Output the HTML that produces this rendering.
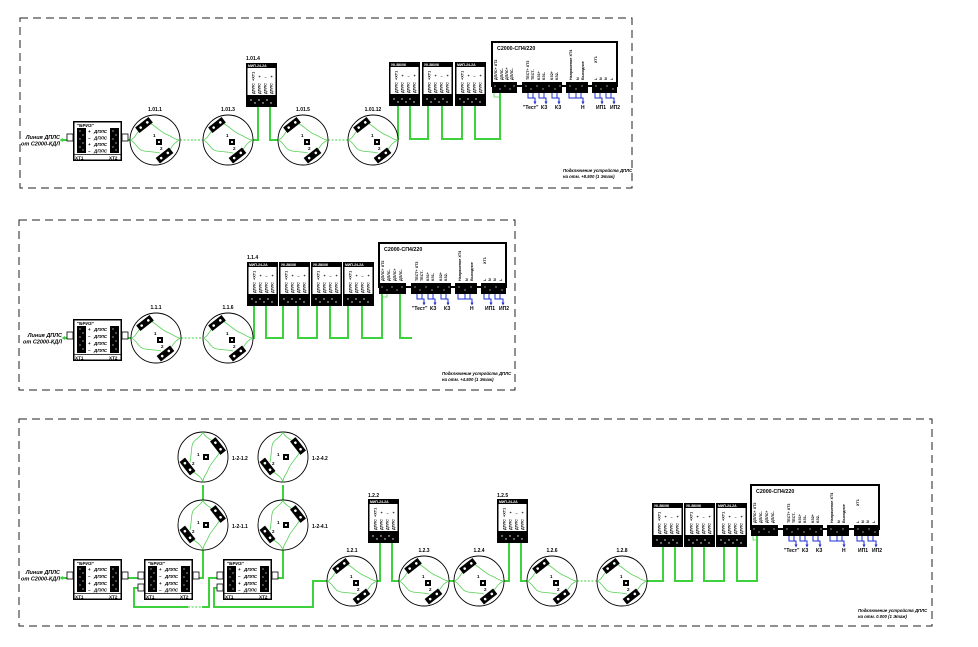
<!DOCTYPE html>
<html><head><meta charset="utf-8"><style>
html,body{margin:0;padding:0;background:#fff;}
svg{display:block;}
text{font-family:"Liberation Sans",sans-serif;font-weight:bold;}
.dash{fill:none;stroke:#222;stroke-width:1;stroke-dasharray:8 5;}
.g{fill:none;stroke:#3dd13d;stroke-width:2;}
.gt{fill:none;stroke:#55d055;stroke-width:.8;}
.gb{fill:none;stroke:#3dd13d;stroke-width:1;stroke-dasharray:2 1.6;}
.b{fill:none;stroke:#1f2fd0;stroke-width:1;}
.ti{font-size:5.5px;font-style:italic;}
.lb{font-size:5px;}
.n{font-size:4.5px;}
.bt{font-size:4.6px;}
.bi{font-size:4.6px;font-style:italic;}
.mh{font-size:3.5px;fill:#fff;}
.mv{font-size:3.8px;}
.st{font-size:5.3px;}
.sv{font-size:3.7px;}
.bl{font-size:5px;fill:#1f2fd0;}
.bk{font-size:5px;}
.cap{font-size:4.3px;font-style:italic;}
</style></head><body>
<svg width="978" height="647" viewBox="0 0 978 647" xmlns="http://www.w3.org/2000/svg">
<rect width="978" height="647" fill="#fff"/>

<!-- ================= TOP PANEL ================= -->
<rect x="20" y="18" width="612" height="170" class="dash"/>
<text class="ti" x="60" y="139" text-anchor="end">Линия ДПЛС</text>
<text class="ti" x="60" y="145.5" text-anchor="end">от С2000-КДЛ</text>
<path class="g" d="M62 140H67M128 140H130M253 140H258V107M270 107V140H278M398 140V106M410 106V139H428V106M442 106V139H462V106M475 106V139H500V93"/>
<path d="M59.5 140l3.5-2v4z" fill="#3dd13d"/>
<path class="gb" d="M180 140H203M328 140H348"/>
<path class="gt" d="M494 93V97H500"/>

<!-- BRIZ top -->
<g transform="translate(73,121)">
<rect x="-6" y="13" width="6" height="7" fill="#fff" stroke="#000" stroke-width=".8"/>
<rect x="49" y="13" width="6" height="7" fill="#fff" stroke="#000" stroke-width=".8"/>
<rect x=".75" y=".75" width="47.5" height="38.5" fill="#fff" stroke="#000" stroke-width="1.5"/>
<text class="bt" x="4" y="6">"БРИЗ"</text>
<rect x="4" y="7" width="9" height="25"/>
<g fill="#fff"><circle cx="7" cy="10" r=".6"/><circle cx="10" cy="14" r=".6"/><circle cx="7" cy="18" r=".6"/><circle cx="10" cy="22" r=".6"/><circle cx="7" cy="26" r=".6"/><circle cx="10" cy="29" r=".6"/></g>
<text class="bt" x="15" y="12">+</text><text class="bt" x="15" y="18.5">–</text><text class="bt" x="15" y="25">+</text><text class="bt" x="15" y="31.5">–</text>
<text class="bi" x="21" y="12">ДПЛС</text><text class="bi" x="21" y="18.5">ДПЛС</text><text class="bi" x="21" y="25">ДПЛС</text><text class="bi" x="21" y="31.5">ДПЛС</text>
<rect x="37" y="7" width="9" height="25"/>
<g fill="#fff"><circle cx="40" cy="10" r=".6"/><circle cx="43" cy="14" r=".6"/><circle cx="40" cy="18" r=".6"/><circle cx="43" cy="22" r=".6"/><circle cx="40" cy="26" r=".6"/><circle cx="43" cy="29" r=".6"/></g>
<line x1="0" y1="33.5" x2="49" y2="33.5" stroke="#000" stroke-width=".8"/>
<text class="bt" x="2" y="38.5">XT1</text><text class="bt" x="36" y="38.5">XT2</text>
</g>

<!-- detectors top -->
<g transform="translate(155,140)"><circle r="25" fill="#fff" stroke="#000" stroke-width=".9"/><path class="gt" d="M-25 0C-20-1-19-7-15-10M-25 0C-19 2-18 10-11 11C-4 12 1 12 5 13M-5-17C3-12 7-7 13-5C18-3 20 0 25 0M14 11C17 7 19 2 25 0"/><g transform="translate(-11,-15) rotate(-38)"><rect x="-8.5" y="-3.5" width="17" height="7"/><circle cx="-4.2" r="1.3" fill="#fff"/><circle cx="4.2" r="1.3" fill="#fff"/></g><g transform="translate(9.5,15.5) rotate(-38)"><rect x="-8.5" y="-3.5" width="17" height="7"/><circle cx="-4.2" r="1.3" fill="#fff"/><circle cx="4.2" r="1.3" fill="#fff"/></g><rect x="1" y="-1" width="6" height="6"/><circle cx="4" cy="2" r="1.1" fill="#fff"/><text class="n" x="-2" y="-3">1</text><text class="n" x="5" y="10">2</text><text class="lb" x="0" y="-29" text-anchor="middle">1.01.1</text></g>
<g transform="translate(228,140)"><circle r="25" fill="#fff" stroke="#000" stroke-width=".9"/><path class="gt" d="M-25 0C-20-1-19-7-15-10M-25 0C-19 2-18 10-11 11C-4 12 1 12 5 13M-5-17C3-12 7-7 13-5C18-3 20 0 25 0M14 11C17 7 19 2 25 0"/><g transform="translate(-11,-15) rotate(-38)"><rect x="-8.5" y="-3.5" width="17" height="7"/><circle cx="-4.2" r="1.3" fill="#fff"/><circle cx="4.2" r="1.3" fill="#fff"/></g><g transform="translate(9.5,15.5) rotate(-38)"><rect x="-8.5" y="-3.5" width="17" height="7"/><circle cx="-4.2" r="1.3" fill="#fff"/><circle cx="4.2" r="1.3" fill="#fff"/></g><rect x="1" y="-1" width="6" height="6"/><circle cx="4" cy="2" r="1.1" fill="#fff"/><text class="n" x="-2" y="-3">1</text><text class="n" x="5" y="10">2</text><text class="lb" x="0" y="-29" text-anchor="middle">1.01.3</text></g>
<g transform="translate(303,140)"><circle r="25" fill="#fff" stroke="#000" stroke-width=".9"/><path class="gt" d="M-25 0C-20-1-19-7-15-10M-25 0C-19 2-18 10-11 11C-4 12 1 12 5 13M-5-17C3-12 7-7 13-5C18-3 20 0 25 0M14 11C17 7 19 2 25 0"/><g transform="translate(-11,-15) rotate(-38)"><rect x="-8.5" y="-3.5" width="17" height="7"/><circle cx="-4.2" r="1.3" fill="#fff"/><circle cx="4.2" r="1.3" fill="#fff"/></g><g transform="translate(9.5,15.5) rotate(-38)"><rect x="-8.5" y="-3.5" width="17" height="7"/><circle cx="-4.2" r="1.3" fill="#fff"/><circle cx="4.2" r="1.3" fill="#fff"/></g><rect x="1" y="-1" width="6" height="6"/><circle cx="4" cy="2" r="1.1" fill="#fff"/><text class="n" x="-2" y="-3">1</text><text class="n" x="5" y="10">2</text><text class="lb" x="0" y="-29" text-anchor="middle">1.01.5</text></g>
<g transform="translate(373,140)"><circle r="25" fill="#fff" stroke="#000" stroke-width=".9"/><path class="gt" d="M-25 0C-20-1-19-7-15-10M-25 0C-19 2-18 10-11 11C-4 12 1 12 5 13M-5-17C3-12 7-7 13-5C18-3 20 0 25 0M14 11C17 7 19 2 25 0"/><g transform="translate(-11,-15) rotate(-38)"><rect x="-8.5" y="-3.5" width="17" height="7"/><circle cx="-4.2" r="1.3" fill="#fff"/><circle cx="4.2" r="1.3" fill="#fff"/></g><g transform="translate(9.5,15.5) rotate(-38)"><rect x="-8.5" y="-3.5" width="17" height="7"/><circle cx="-4.2" r="1.3" fill="#fff"/><circle cx="4.2" r="1.3" fill="#fff"/></g><rect x="1" y="-1" width="6" height="6"/><circle cx="4" cy="2" r="1.1" fill="#fff"/><text class="n" x="-2" y="-3">1</text><text class="n" x="5" y="10">2</text><text class="lb" x="0" y="-29" text-anchor="middle">1.01.12</text></g>

<!-- modules top -->
<text class="lb" x="246" y="60">1.01.4</text>
<g transform="translate(246,63)"><rect x=".75" y=".75" width="29.5" height="42.5" fill="#fff" stroke="#000" stroke-width="1.5"/><rect width="31" height="5"/><text class="mh" x="2" y="4">МИП-24-2А</text><text class="mv" transform="translate(8.5,18) rotate(-90)">+XT1</text><text class="mv" x="12.5" y="15">+</text><text class="mv" x="18.5" y="15">–</text><text class="mv" x="24.5" y="15">+</text><text class="mv" transform="translate(8.5,31) rotate(-90)">ДПЛС</text><text class="mv" transform="translate(14.5,31) rotate(-90)">ДПЛС</text><text class="mv" transform="translate(20.5,31) rotate(-90)">ДПЛС</text><text class="mv" transform="translate(26.5,31) rotate(-90)">ДПЛС</text><rect x="1" y="32" width="29" height="12"/><g fill="#fff"><circle cx="5" cy="37" r=".7"/><circle cx="9" cy="40" r=".7"/><circle cx="13" cy="37" r=".7"/><circle cx="17" cy="40" r=".7"/><circle cx="21" cy="37" r=".7"/><circle cx="25" cy="40" r=".7"/></g></g>
<g transform="translate(389,62)"><rect x=".75" y=".75" width="29.5" height="42.5" fill="#fff" stroke="#000" stroke-width="1.5"/><rect width="31" height="5"/><text class="mh" x="2" y="4">УК-ВК/06</text><text class="mv" transform="translate(8.5,18) rotate(-90)">+XT1</text><text class="mv" x="12.5" y="15">+</text><text class="mv" x="18.5" y="15">–</text><text class="mv" x="24.5" y="15">+</text><text class="mv" transform="translate(8.5,31) rotate(-90)">ДПЛС</text><text class="mv" transform="translate(14.5,31) rotate(-90)">ДПЛС</text><text class="mv" transform="translate(20.5,31) rotate(-90)">ДПЛС</text><text class="mv" transform="translate(26.5,31) rotate(-90)">ДПЛС</text><rect x="1" y="32" width="29" height="12"/><g fill="#fff"><circle cx="5" cy="37" r=".7"/><circle cx="9" cy="40" r=".7"/><circle cx="13" cy="37" r=".7"/><circle cx="17" cy="40" r=".7"/><circle cx="21" cy="37" r=".7"/><circle cx="25" cy="40" r=".7"/></g></g>
<g transform="translate(422,62)"><rect x=".75" y=".75" width="29.5" height="42.5" fill="#fff" stroke="#000" stroke-width="1.5"/><rect width="31" height="5"/><text class="mh" x="2" y="4">УК-ВК/06</text><text class="mv" transform="translate(8.5,18) rotate(-90)">+XT1</text><text class="mv" x="12.5" y="15">+</text><text class="mv" x="18.5" y="15">–</text><text class="mv" x="24.5" y="15">+</text><text class="mv" transform="translate(8.5,31) rotate(-90)">ДПЛС</text><text class="mv" transform="translate(14.5,31) rotate(-90)">ДПЛС</text><text class="mv" transform="translate(20.5,31) rotate(-90)">ДПЛС</text><text class="mv" transform="translate(26.5,31) rotate(-90)">ДПЛС</text><rect x="1" y="32" width="29" height="12"/><g fill="#fff"><circle cx="5" cy="37" r=".7"/><circle cx="9" cy="40" r=".7"/><circle cx="13" cy="37" r=".7"/><circle cx="17" cy="40" r=".7"/><circle cx="21" cy="37" r=".7"/><circle cx="25" cy="40" r=".7"/></g></g>
<g transform="translate(455,62)"><rect x=".75" y=".75" width="29.5" height="42.5" fill="#fff" stroke="#000" stroke-width="1.5"/><rect width="31" height="5"/><text class="mh" x="2" y="4">МИП-24-2А</text><text class="mv" transform="translate(8.5,18) rotate(-90)">+XT1</text><text class="mv" x="12.5" y="15">+</text><text class="mv" x="18.5" y="15">–</text><text class="mv" x="24.5" y="15">+</text><text class="mv" transform="translate(8.5,31) rotate(-90)">ДПЛС</text><text class="mv" transform="translate(14.5,31) rotate(-90)">ДПЛС</text><text class="mv" transform="translate(20.5,31) rotate(-90)">ДПЛС</text><text class="mv" transform="translate(26.5,31) rotate(-90)">ДПЛС</text><rect x="1" y="32" width="29" height="12"/><g fill="#fff"><circle cx="5" cy="37" r=".7"/><circle cx="9" cy="40" r=".7"/><circle cx="13" cy="37" r=".7"/><circle cx="17" cy="40" r=".7"/><circle cx="21" cy="37" r=".7"/><circle cx="25" cy="40" r=".7"/></g></g>

<!-- SP4 top -->
<g transform="translate(491,41)">
<rect x="1" y="1" width="125" height="44" fill="#fff" stroke="#000" stroke-width="2"/>
<text class="st" x="6" y="9">С2000-СП4/220</text>
<rect x="1" y="41" width="25" height="11"/><rect x="31" y="41" width="40" height="11"/><rect x="75" y="41" width="22" height="11"/><rect x="101" y="41" width="25" height="11"/>
<g fill="#fff"><circle cx="4" cy="45" r=".6"/><circle cx="9" cy="48" r=".6"/><circle cx="14" cy="45" r=".6"/><circle cx="19" cy="48" r=".6"/><circle cx="23" cy="45" r=".6"/><circle cx="35" cy="45" r=".6"/><circle cx="40" cy="48" r=".6"/><circle cx="46" cy="45" r=".6"/><circle cx="52" cy="48" r=".6"/><circle cx="58" cy="45" r=".6"/><circle cx="64" cy="48" r=".6"/><circle cx="69" cy="45" r=".6"/><circle cx="79" cy="45" r=".6"/><circle cx="85" cy="48" r=".6"/><circle cx="91" cy="45" r=".6"/><circle cx="105" cy="45" r=".6"/><circle cx="110" cy="48" r=".6"/><circle cx="116" cy="45" r=".6"/><circle cx="122" cy="48" r=".6"/></g>
<text class="sv" transform="translate(6,39) rotate(-90)">ДПЛС+ XT2</text><text class="sv" transform="translate(12,39) rotate(-90)">ДПЛС-</text><text class="sv" transform="translate(17,39) rotate(-90)">ДПЛС+</text><text class="sv" transform="translate(22,39) rotate(-90)">ДПЛС-</text>
<text class="sv" transform="translate(38,39) rotate(-90)">ТЕСТ+ XT3</text><text class="sv" transform="translate(43,39) rotate(-90)">ТЕСТ-</text><text class="sv" transform="translate(49,39) rotate(-90)">КЗ1+</text><text class="sv" transform="translate(54,39) rotate(-90)">КЗ1-</text><text class="sv" transform="translate(62,39) rotate(-90)">КЗ2+</text><text class="sv" transform="translate(67,39) rotate(-90)">КЗ2-</text>
<text class="sv" transform="translate(81,39) rotate(-90)">Напряжение XT4</text><text class="sv" transform="translate(88,39) rotate(-90)">N</text><text class="sv" transform="translate(93,39) rotate(-90)">Выходное</text>
<text class="sv" transform="translate(106,22) rotate(-90)">XT1</text><text class="sv" transform="translate(106,39) rotate(-90)">L</text><text class="sv" transform="translate(111,39) rotate(-90)">N</text><text class="sv" transform="translate(116,39) rotate(-90)">N</text><text class="sv" transform="translate(122,39) rotate(-90)">L</text>
<path class="b" d="M37 52V57H44V61M42 52V57M48 52V57H55V61M53 52V57M61 52V57H68V61M66 52V57M78 52V57H92V61M85 52V57M90 52V57M104 52V57H111V61M109 52V57M115 52V57H123V61M120 52V57"/>
<g fill="#1f2fd0"><path d="M42.5 60.5h3l-1.5 3z"/><path d="M53.5 60.5h3l-1.5 3z"/><path d="M66.5 60.5h3l-1.5 3z"/><path d="M90.5 60.5h3l-1.5 3z"/><path d="M109.5 60.5h3l-1.5 3z"/><path d="M121.5 60.5h3l-1.5 3z"/></g>
<text class="bk" x="32" y="68">"Тест"</text><text class="bk" x="50" y="68">КЗ</text><text class="bk" x="64" y="68">КЗ</text><text class="bk" x="90" y="68">Н</text><text class="bk" x="105" y="68">ИП1</text><text class="bk" x="119" y="68">ИП2</text>
</g>
<text class="cap" x="563" y="172">Подключение устройств ДПЛС</text>
<text class="cap" x="563" y="178">на отм. +8.500 (1 Этаж)</text>

<!-- ================= MIDDLE PANEL ================= -->
<rect x="19" y="220" width="496" height="170" class="dash"/>
<text class="ti" x="62" y="337" text-anchor="end">Линия ДПЛС</text>
<text class="ti" x="62" y="343.5" text-anchor="end">от С2000-КДЛ</text>
<path class="g" d="M64 338H67M128 338H131M253 338H254V306M266 306V338H283V306M298 306V338H317V306M330 306V338H348V306M362 306V338H382V293M400 293V338H412"/>
<path d="M61.5 338l3.5-2v4z" fill="#3dd13d"/>
<path class="gb" d="M181 338H203"/>
<path class="gt" d="M382 293V297H387V293"/>

<g transform="translate(73,319)">
<rect x="-6" y="13" width="6" height="7" fill="#fff" stroke="#000" stroke-width=".8"/>
<rect x="49" y="13" width="6" height="7" fill="#fff" stroke="#000" stroke-width=".8"/>
<rect x=".75" y=".75" width="47.5" height="40.5" fill="#fff" stroke="#000" stroke-width="1.5"/>
<text class="bt" x="4" y="6">"БРИЗ"</text>
<rect x="4" y="7" width="9" height="27"/>
<g fill="#fff"><circle cx="7" cy="10" r=".6"/><circle cx="10" cy="14" r=".6"/><circle cx="7" cy="18" r=".6"/><circle cx="10" cy="22" r=".6"/><circle cx="7" cy="26" r=".6"/><circle cx="10" cy="30" r=".6"/></g>
<text class="bt" x="15" y="12">+</text><text class="bt" x="15" y="19">–</text><text class="bt" x="15" y="26">+</text><text class="bt" x="15" y="33">–</text>
<text class="bi" x="21" y="12">ДПЛС</text><text class="bi" x="21" y="19">ДПЛС</text><text class="bi" x="21" y="26">ДПЛС</text><text class="bi" x="21" y="33">ДПЛС</text>
<rect x="37" y="7" width="9" height="27"/>
<g fill="#fff"><circle cx="40" cy="10" r=".6"/><circle cx="43" cy="14" r=".6"/><circle cx="40" cy="18" r=".6"/><circle cx="43" cy="22" r=".6"/><circle cx="40" cy="26" r=".6"/><circle cx="43" cy="30" r=".6"/></g>
<line x1="0" y1="35.5" x2="49" y2="35.5" stroke="#000" stroke-width=".8"/>
<text class="bt" x="2" y="40.5">XT1</text><text class="bt" x="36" y="40.5">XT2</text>
</g>

<g transform="translate(156,338)"><circle r="25" fill="#fff" stroke="#000" stroke-width=".9"/><path class="gt" d="M-25 0C-20-1-19-7-15-10M-25 0C-19 2-18 10-11 11C-4 12 1 12 5 13M-5-17C3-12 7-7 13-5C18-3 20 0 25 0M14 11C17 7 19 2 25 0"/><g transform="translate(-11,-15) rotate(-38)"><rect x="-8.5" y="-3.5" width="17" height="7"/><circle cx="-4.2" r="1.3" fill="#fff"/><circle cx="4.2" r="1.3" fill="#fff"/></g><g transform="translate(9.5,15.5) rotate(-38)"><rect x="-8.5" y="-3.5" width="17" height="7"/><circle cx="-4.2" r="1.3" fill="#fff"/><circle cx="4.2" r="1.3" fill="#fff"/></g><rect x="1" y="-1" width="6" height="6"/><circle cx="4" cy="2" r="1.1" fill="#fff"/><text class="n" x="-2" y="-3">1</text><text class="n" x="5" y="10">2</text><text class="lb" x="0" y="-29" text-anchor="middle">1.1.1</text></g>
<g transform="translate(228,338)"><circle r="25" fill="#fff" stroke="#000" stroke-width=".9"/><path class="gt" d="M-25 0C-20-1-19-7-15-10M-25 0C-19 2-18 10-11 11C-4 12 1 12 5 13M-5-17C3-12 7-7 13-5C18-3 20 0 25 0M14 11C17 7 19 2 25 0"/><g transform="translate(-11,-15) rotate(-38)"><rect x="-8.5" y="-3.5" width="17" height="7"/><circle cx="-4.2" r="1.3" fill="#fff"/><circle cx="4.2" r="1.3" fill="#fff"/></g><g transform="translate(9.5,15.5) rotate(-38)"><rect x="-8.5" y="-3.5" width="17" height="7"/><circle cx="-4.2" r="1.3" fill="#fff"/><circle cx="4.2" r="1.3" fill="#fff"/></g><rect x="1" y="-1" width="6" height="6"/><circle cx="4" cy="2" r="1.1" fill="#fff"/><text class="n" x="-2" y="-3">1</text><text class="n" x="5" y="10">2</text><text class="lb" x="0" y="-29" text-anchor="middle">1.1.6</text></g>

<text class="lb" x="247" y="259">1.1.4</text>
<g transform="translate(247,262)"><rect x=".75" y=".75" width="29.5" height="42.5" fill="#fff" stroke="#000" stroke-width="1.5"/><rect width="31" height="5"/><text class="mh" x="2" y="4">МИП-24-2А</text><text class="mv" transform="translate(8.5,18) rotate(-90)">+XT1</text><text class="mv" x="12.5" y="15">+</text><text class="mv" x="18.5" y="15">–</text><text class="mv" x="24.5" y="15">+</text><text class="mv" transform="translate(8.5,31) rotate(-90)">ДПЛС</text><text class="mv" transform="translate(14.5,31) rotate(-90)">ДПЛС</text><text class="mv" transform="translate(20.5,31) rotate(-90)">ДПЛС</text><text class="mv" transform="translate(26.5,31) rotate(-90)">ДПЛС</text><rect x="1" y="32" width="29" height="12"/><g fill="#fff"><circle cx="5" cy="37" r=".7"/><circle cx="9" cy="40" r=".7"/><circle cx="13" cy="37" r=".7"/><circle cx="17" cy="40" r=".7"/><circle cx="21" cy="37" r=".7"/><circle cx="25" cy="40" r=".7"/></g></g>
<g transform="translate(279,262)"><rect x=".75" y=".75" width="29.5" height="42.5" fill="#fff" stroke="#000" stroke-width="1.5"/><rect width="31" height="5"/><text class="mh" x="2" y="4">УК-ВК/06</text><text class="mv" transform="translate(8.5,18) rotate(-90)">+XT1</text><text class="mv" x="12.5" y="15">+</text><text class="mv" x="18.5" y="15">–</text><text class="mv" x="24.5" y="15">+</text><text class="mv" transform="translate(8.5,31) rotate(-90)">ДПЛС</text><text class="mv" transform="translate(14.5,31) rotate(-90)">ДПЛС</text><text class="mv" transform="translate(20.5,31) rotate(-90)">ДПЛС</text><text class="mv" transform="translate(26.5,31) rotate(-90)">ДПЛС</text><rect x="1" y="32" width="29" height="12"/><g fill="#fff"><circle cx="5" cy="37" r=".7"/><circle cx="9" cy="40" r=".7"/><circle cx="13" cy="37" r=".7"/><circle cx="17" cy="40" r=".7"/><circle cx="21" cy="37" r=".7"/><circle cx="25" cy="40" r=".7"/></g></g>
<g transform="translate(311,262)"><rect x=".75" y=".75" width="29.5" height="42.5" fill="#fff" stroke="#000" stroke-width="1.5"/><rect width="31" height="5"/><text class="mh" x="2" y="4">УК-ВК/06</text><text class="mv" transform="translate(8.5,18) rotate(-90)">+XT1</text><text class="mv" x="12.5" y="15">+</text><text class="mv" x="18.5" y="15">–</text><text class="mv" x="24.5" y="15">+</text><text class="mv" transform="translate(8.5,31) rotate(-90)">ДПЛС</text><text class="mv" transform="translate(14.5,31) rotate(-90)">ДПЛС</text><text class="mv" transform="translate(20.5,31) rotate(-90)">ДПЛС</text><text class="mv" transform="translate(26.5,31) rotate(-90)">ДПЛС</text><rect x="1" y="32" width="29" height="12"/><g fill="#fff"><circle cx="5" cy="37" r=".7"/><circle cx="9" cy="40" r=".7"/><circle cx="13" cy="37" r=".7"/><circle cx="17" cy="40" r=".7"/><circle cx="21" cy="37" r=".7"/><circle cx="25" cy="40" r=".7"/></g></g>
<g transform="translate(343,262)"><rect x=".75" y=".75" width="29.5" height="42.5" fill="#fff" stroke="#000" stroke-width="1.5"/><rect width="31" height="5"/><text class="mh" x="2" y="4">МИП-24-2А</text><text class="mv" transform="translate(8.5,18) rotate(-90)">+XT1</text><text class="mv" x="12.5" y="15">+</text><text class="mv" x="18.5" y="15">–</text><text class="mv" x="24.5" y="15">+</text><text class="mv" transform="translate(8.5,31) rotate(-90)">ДПЛС</text><text class="mv" transform="translate(14.5,31) rotate(-90)">ДПЛС</text><text class="mv" transform="translate(20.5,31) rotate(-90)">ДПЛС</text><text class="mv" transform="translate(26.5,31) rotate(-90)">ДПЛС</text><rect x="1" y="32" width="29" height="12"/><g fill="#fff"><circle cx="5" cy="37" r=".7"/><circle cx="9" cy="40" r=".7"/><circle cx="13" cy="37" r=".7"/><circle cx="17" cy="40" r=".7"/><circle cx="21" cy="37" r=".7"/><circle cx="25" cy="40" r=".7"/></g></g>

<g transform="translate(378,242)">
<rect x="1" y="1" width="127" height="44" fill="#fff" stroke="#000" stroke-width="2"/>
<text class="st" x="6" y="9">С2000-СП4/220</text>
<rect x="1" y="41" width="27" height="11"/><rect x="33" y="41" width="40" height="11"/><rect x="77" y="41" width="22" height="11"/><rect x="103" y="41" width="25" height="11"/>
<g fill="#fff"><circle cx="4" cy="45" r=".6"/><circle cx="9" cy="48" r=".6"/><circle cx="14" cy="45" r=".6"/><circle cx="19" cy="48" r=".6"/><circle cx="24" cy="45" r=".6"/><circle cx="37" cy="45" r=".6"/><circle cx="42" cy="48" r=".6"/><circle cx="48" cy="45" r=".6"/><circle cx="54" cy="48" r=".6"/><circle cx="60" cy="45" r=".6"/><circle cx="66" cy="48" r=".6"/><circle cx="71" cy="45" r=".6"/><circle cx="81" cy="45" r=".6"/><circle cx="87" cy="48" r=".6"/><circle cx="93" cy="45" r=".6"/><circle cx="107" cy="45" r=".6"/><circle cx="112" cy="48" r=".6"/><circle cx="118" cy="45" r=".6"/><circle cx="124" cy="48" r=".6"/></g>
<text class="sv" transform="translate(6,39) rotate(-90)">ДПЛС+ XT2</text><text class="sv" transform="translate(12,39) rotate(-90)">ДПЛС-</text><text class="sv" transform="translate(18,39) rotate(-90)">ДПЛС+</text><text class="sv" transform="translate(24,39) rotate(-90)">ДПЛС-</text>
<text class="sv" transform="translate(40,39) rotate(-90)">ТЕСТ+ XT3</text><text class="sv" transform="translate(45,39) rotate(-90)">ТЕСТ-</text><text class="sv" transform="translate(51,39) rotate(-90)">КЗ1+</text><text class="sv" transform="translate(56,39) rotate(-90)">КЗ1-</text><text class="sv" transform="translate(64,39) rotate(-90)">КЗ2+</text><text class="sv" transform="translate(69,39) rotate(-90)">КЗ2-</text>
<text class="sv" transform="translate(83,39) rotate(-90)">Напряжение XT4</text><text class="sv" transform="translate(90,39) rotate(-90)">N</text><text class="sv" transform="translate(95,39) rotate(-90)">Выходное</text>
<text class="sv" transform="translate(108,22) rotate(-90)">XT1</text><text class="sv" transform="translate(108,39) rotate(-90)">L</text><text class="sv" transform="translate(113,39) rotate(-90)">N</text><text class="sv" transform="translate(118,39) rotate(-90)">N</text><text class="sv" transform="translate(124,39) rotate(-90)">L</text>
<path class="b" d="M39 52V57H46V61M44 52V57M50 52V57H57V61M55 52V57M63 52V57H70V61M68 52V57M80 52V57H94V61M87 52V57M92 52V57M106 52V57H113V61M111 52V57M117 52V57H125V61M122 52V57"/>
<g fill="#1f2fd0"><path d="M44.5 60.5h3l-1.5 3z"/><path d="M55.5 60.5h3l-1.5 3z"/><path d="M68.5 60.5h3l-1.5 3z"/><path d="M92.5 60.5h3l-1.5 3z"/><path d="M111.5 60.5h3l-1.5 3z"/><path d="M123.5 60.5h3l-1.5 3z"/></g>
<text class="bk" x="34" y="68">"Тест"</text><text class="bk" x="52" y="68">КЗ</text><text class="bk" x="66" y="68">КЗ</text><text class="bk" x="92" y="68">Н</text><text class="bk" x="107" y="68">ИП1</text><text class="bk" x="121" y="68">ИП2</text>
</g>
<text class="cap" x="442" y="375">Подключение устройств ДПЛС</text>
<text class="cap" x="442" y="381">на отм. +4.500 (1 Этаж)</text>

<!-- ================= BOTTOM PANEL ================= -->
<rect x="19" y="419" width="913" height="207" class="dash"/>
<text class="ti" x="60" y="574" text-anchor="end">Линия ДПЛС</text>
<text class="ti" x="60" y="580.5" text-anchor="end">от С2000-КДЛ</text>
<path class="g" d="M62 578H67M128 578H138M138 588H134V607H188M202 607H209V578H217M217 588H214V607H313V581H327M199 578H203V550M203 500V485M278 578H283V550M283 500V485M377 581H380V543M392 543V581H399M449 581H454M504 581H509V543M521 543V581H527M647 581H663V547M675 547V581H692V547M704 547V581H724V547M737 547V581H757V536"/>
<path d="M59.5 578l3.5-2v4z" fill="#3dd13d"/>
<path class="gb" d="M188 607H202M577 581H597"/>
<path class="gt" d="M753 536V540H757"/>

<!-- BRIZ bottom -->
<g transform="translate(73,559)">
<rect x="-6" y="13" width="6" height="7" fill="#fff" stroke="#000" stroke-width=".8"/>
<rect x="49" y="13" width="6" height="7" fill="#fff" stroke="#000" stroke-width=".8"/>
<rect x=".75" y=".75" width="47.5" height="39.5" fill="#fff" stroke="#000" stroke-width="1.5"/>
<text class="bt" x="4" y="6">"БРИЗ"</text>
<rect x="4" y="7" width="9" height="26"/>
<g fill="#fff"><circle cx="7" cy="10" r=".6"/><circle cx="10" cy="14" r=".6"/><circle cx="7" cy="18" r=".6"/><circle cx="10" cy="22" r=".6"/><circle cx="7" cy="26" r=".6"/><circle cx="10" cy="30" r=".6"/></g>
<text class="bt" x="15" y="12">+</text><text class="bt" x="15" y="19">–</text><text class="bt" x="15" y="26">+</text><text class="bt" x="15" y="32.5">–</text>
<text class="bi" x="21" y="12">ДПЛС</text><text class="bi" x="21" y="19">ДПЛС</text><text class="bi" x="21" y="26">ДПЛС</text><text class="bi" x="21" y="32.5">ДПЛС</text>
<rect x="37" y="7" width="9" height="26"/>
<g fill="#fff"><circle cx="40" cy="10" r=".6"/><circle cx="43" cy="14" r=".6"/><circle cx="40" cy="18" r=".6"/><circle cx="43" cy="22" r=".6"/><circle cx="40" cy="26" r=".6"/><circle cx="43" cy="30" r=".6"/></g>
<line x1="0" y1="34.5" x2="49" y2="34.5" stroke="#000" stroke-width=".8"/>
<text class="bt" x="2" y="39.5">XT1</text><text class="bt" x="36" y="39.5">XT2</text>
</g>
<g transform="translate(144,559)">
<rect x="-6" y="13" width="6" height="7" fill="#fff" stroke="#000" stroke-width=".8"/>
<rect x="-6" y="25" width="6" height="7" fill="#fff" stroke="#000" stroke-width=".8"/>
<rect x="49" y="13" width="6" height="7" fill="#fff" stroke="#000" stroke-width=".8"/>
<rect x=".75" y=".75" width="47.5" height="39.5" fill="#fff" stroke="#000" stroke-width="1.5"/>
<text class="bt" x="4" y="6">"БРИЗ"</text>
<rect x="4" y="7" width="9" height="26"/>
<g fill="#fff"><circle cx="7" cy="10" r=".6"/><circle cx="10" cy="14" r=".6"/><circle cx="7" cy="18" r=".6"/><circle cx="10" cy="22" r=".6"/><circle cx="7" cy="26" r=".6"/><circle cx="10" cy="30" r=".6"/></g>
<text class="bt" x="15" y="12">+</text><text class="bt" x="15" y="19">–</text><text class="bt" x="15" y="26">+</text><text class="bt" x="15" y="32.5">–</text>
<text class="bi" x="21" y="12">ДПЛС</text><text class="bi" x="21" y="19">ДПЛС</text><text class="bi" x="21" y="26">ДПЛС</text><text class="bi" x="21" y="32.5">ДПЛС</text>
<rect x="37" y="7" width="9" height="26"/>
<g fill="#fff"><circle cx="40" cy="10" r=".6"/><circle cx="43" cy="14" r=".6"/><circle cx="40" cy="18" r=".6"/><circle cx="43" cy="22" r=".6"/><circle cx="40" cy="26" r=".6"/><circle cx="43" cy="30" r=".6"/></g>
<line x1="0" y1="34.5" x2="49" y2="34.5" stroke="#000" stroke-width=".8"/>
<text class="bt" x="2" y="39.5">XT1</text><text class="bt" x="36" y="39.5">XT2</text>
</g>
<g transform="translate(223,559)">
<rect x="-6" y="13" width="6" height="7" fill="#fff" stroke="#000" stroke-width=".8"/>
<rect x="-6" y="25" width="6" height="7" fill="#fff" stroke="#000" stroke-width=".8"/>
<rect x="49" y="13" width="6" height="7" fill="#fff" stroke="#000" stroke-width=".8"/>
<rect x=".75" y=".75" width="47.5" height="39.5" fill="#fff" stroke="#000" stroke-width="1.5"/>
<text class="bt" x="4" y="6">"БРИЗ"</text>
<rect x="4" y="7" width="9" height="26"/>
<g fill="#fff"><circle cx="7" cy="10" r=".6"/><circle cx="10" cy="14" r=".6"/><circle cx="7" cy="18" r=".6"/><circle cx="10" cy="22" r=".6"/><circle cx="7" cy="26" r=".6"/><circle cx="10" cy="30" r=".6"/></g>
<text class="bt" x="15" y="12">+</text><text class="bt" x="15" y="19">–</text><text class="bt" x="15" y="26">+</text><text class="bt" x="15" y="32.5">–</text>
<text class="bi" x="21" y="12">ДПЛС</text><text class="bi" x="21" y="19">ДПЛС</text><text class="bi" x="21" y="26">ДПЛС</text><text class="bi" x="21" y="32.5">ДПЛС</text>
<rect x="37" y="7" width="9" height="26"/>
<g fill="#fff"><circle cx="40" cy="10" r=".6"/><circle cx="43" cy="14" r=".6"/><circle cx="40" cy="18" r=".6"/><circle cx="43" cy="22" r=".6"/><circle cx="40" cy="26" r=".6"/><circle cx="43" cy="30" r=".6"/></g>
<line x1="0" y1="34.5" x2="49" y2="34.5" stroke="#000" stroke-width=".8"/>
<text class="bt" x="2" y="39.5">XT1</text><text class="bt" x="36" y="39.5">XT2</text>
</g>

<!-- column detectors (rotated) -->
<g transform="translate(203,457)"><g transform="rotate(90)"><circle r="25" fill="#fff" stroke="#000" stroke-width=".9"/><path class="gt" d="M-25 0C-20-1-19-7-15-10M-25 0C-19 2-18 10-11 11C-4 12 1 12 5 13M-5-17C3-12 7-7 13-5C18-3 20 0 25 0M14 11C17 7 19 2 25 0"/><g transform="translate(-11,-15) rotate(-38)"><rect x="-8.5" y="-3.5" width="17" height="7"/><circle cx="-4.2" r="1.3" fill="#fff"/><circle cx="4.2" r="1.3" fill="#fff"/></g><g transform="translate(9.5,15.5) rotate(-38)"><rect x="-8.5" y="-3.5" width="17" height="7"/><circle cx="-4.2" r="1.3" fill="#fff"/><circle cx="4.2" r="1.3" fill="#fff"/></g><rect x="-3" y="-6" width="6" height="6"/><circle cx="0" cy="-3" r="1.1" fill="#fff"/></g><text class="n" x="-6" y="-1">1</text><text class="n" x="-11" y="8">2</text><text class="lb" x="29" y="3">1-2-1.2</text></g>
<g transform="translate(203,525)"><g transform="rotate(90)"><circle r="25" fill="#fff" stroke="#000" stroke-width=".9"/><path class="gt" d="M-25 0C-20-1-19-7-15-10M-25 0C-19 2-18 10-11 11C-4 12 1 12 5 13M-5-17C3-12 7-7 13-5C18-3 20 0 25 0M14 11C17 7 19 2 25 0"/><g transform="translate(-11,-15) rotate(-38)"><rect x="-8.5" y="-3.5" width="17" height="7"/><circle cx="-4.2" r="1.3" fill="#fff"/><circle cx="4.2" r="1.3" fill="#fff"/></g><g transform="translate(9.5,15.5) rotate(-38)"><rect x="-8.5" y="-3.5" width="17" height="7"/><circle cx="-4.2" r="1.3" fill="#fff"/><circle cx="4.2" r="1.3" fill="#fff"/></g><rect x="-3" y="-6" width="6" height="6"/><circle cx="0" cy="-3" r="1.1" fill="#fff"/></g><text class="n" x="-6" y="-1">1</text><text class="n" x="-11" y="8">2</text><text class="lb" x="29" y="3">1-2-1.1</text></g>
<g transform="translate(283,457)"><g transform="rotate(90)"><circle r="25" fill="#fff" stroke="#000" stroke-width=".9"/><path class="gt" d="M-25 0C-20-1-19-7-15-10M-25 0C-19 2-18 10-11 11C-4 12 1 12 5 13M-5-17C3-12 7-7 13-5C18-3 20 0 25 0M14 11C17 7 19 2 25 0"/><g transform="translate(-11,-15) rotate(-38)"><rect x="-8.5" y="-3.5" width="17" height="7"/><circle cx="-4.2" r="1.3" fill="#fff"/><circle cx="4.2" r="1.3" fill="#fff"/></g><g transform="translate(9.5,15.5) rotate(-38)"><rect x="-8.5" y="-3.5" width="17" height="7"/><circle cx="-4.2" r="1.3" fill="#fff"/><circle cx="4.2" r="1.3" fill="#fff"/></g><rect x="-3" y="-6" width="6" height="6"/><circle cx="0" cy="-3" r="1.1" fill="#fff"/></g><text class="n" x="-6" y="-1">1</text><text class="n" x="-11" y="8">2</text><text class="lb" x="29" y="3">1-2-4.2</text></g>
<g transform="translate(283,525)"><g transform="rotate(90)"><circle r="25" fill="#fff" stroke="#000" stroke-width=".9"/><path class="gt" d="M-25 0C-20-1-19-7-15-10M-25 0C-19 2-18 10-11 11C-4 12 1 12 5 13M-5-17C3-12 7-7 13-5C18-3 20 0 25 0M14 11C17 7 19 2 25 0"/><g transform="translate(-11,-15) rotate(-38)"><rect x="-8.5" y="-3.5" width="17" height="7"/><circle cx="-4.2" r="1.3" fill="#fff"/><circle cx="4.2" r="1.3" fill="#fff"/></g><g transform="translate(9.5,15.5) rotate(-38)"><rect x="-8.5" y="-3.5" width="17" height="7"/><circle cx="-4.2" r="1.3" fill="#fff"/><circle cx="4.2" r="1.3" fill="#fff"/></g><rect x="-3" y="-6" width="6" height="6"/><circle cx="0" cy="-3" r="1.1" fill="#fff"/></g><text class="n" x="-6" y="-1">1</text><text class="n" x="-11" y="8">2</text><text class="lb" x="29" y="3">1-2-4.1</text></g>

<!-- bottom row detectors -->
<g transform="translate(352,581)"><circle r="25" fill="#fff" stroke="#000" stroke-width=".9"/><path class="gt" d="M-25 0C-20-1-19-7-15-10M-25 0C-19 2-18 10-11 11C-4 12 1 12 5 13M-5-17C3-12 7-7 13-5C18-3 20 0 25 0M14 11C17 7 19 2 25 0"/><g transform="translate(-11,-15) rotate(-38)"><rect x="-8.5" y="-3.5" width="17" height="7"/><circle cx="-4.2" r="1.3" fill="#fff"/><circle cx="4.2" r="1.3" fill="#fff"/></g><g transform="translate(9.5,15.5) rotate(-38)"><rect x="-8.5" y="-3.5" width="17" height="7"/><circle cx="-4.2" r="1.3" fill="#fff"/><circle cx="4.2" r="1.3" fill="#fff"/></g><rect x="1" y="-1" width="6" height="6"/><circle cx="4" cy="2" r="1.1" fill="#fff"/><text class="n" x="-2" y="-3">1</text><text class="n" x="5" y="10">2</text><text class="lb" x="0" y="-29" text-anchor="middle">1.2.1</text></g>
<g transform="translate(424,581)"><circle r="25" fill="#fff" stroke="#000" stroke-width=".9"/><path class="gt" d="M-25 0C-20-1-19-7-15-10M-25 0C-19 2-18 10-11 11C-4 12 1 12 5 13M-5-17C3-12 7-7 13-5C18-3 20 0 25 0M14 11C17 7 19 2 25 0"/><g transform="translate(-11,-15) rotate(-38)"><rect x="-8.5" y="-3.5" width="17" height="7"/><circle cx="-4.2" r="1.3" fill="#fff"/><circle cx="4.2" r="1.3" fill="#fff"/></g><g transform="translate(9.5,15.5) rotate(-38)"><rect x="-8.5" y="-3.5" width="17" height="7"/><circle cx="-4.2" r="1.3" fill="#fff"/><circle cx="4.2" r="1.3" fill="#fff"/></g><rect x="1" y="-1" width="6" height="6"/><circle cx="4" cy="2" r="1.1" fill="#fff"/><text class="n" x="-2" y="-3">1</text><text class="n" x="5" y="10">2</text><text class="lb" x="0" y="-29" text-anchor="middle">1.2.3</text></g>
<g transform="translate(479,581)"><circle r="25" fill="#fff" stroke="#000" stroke-width=".9"/><path class="gt" d="M-25 0C-20-1-19-7-15-10M-25 0C-19 2-18 10-11 11C-4 12 1 12 5 13M-5-17C3-12 7-7 13-5C18-3 20 0 25 0M14 11C17 7 19 2 25 0"/><g transform="translate(-11,-15) rotate(-38)"><rect x="-8.5" y="-3.5" width="17" height="7"/><circle cx="-4.2" r="1.3" fill="#fff"/><circle cx="4.2" r="1.3" fill="#fff"/></g><g transform="translate(9.5,15.5) rotate(-38)"><rect x="-8.5" y="-3.5" width="17" height="7"/><circle cx="-4.2" r="1.3" fill="#fff"/><circle cx="4.2" r="1.3" fill="#fff"/></g><rect x="1" y="-1" width="6" height="6"/><circle cx="4" cy="2" r="1.1" fill="#fff"/><text class="n" x="-2" y="-3">1</text><text class="n" x="5" y="10">2</text><text class="lb" x="0" y="-29" text-anchor="middle">1.2.4</text></g>
<g transform="translate(552,581)"><circle r="25" fill="#fff" stroke="#000" stroke-width=".9"/><path class="gt" d="M-25 0C-20-1-19-7-15-10M-25 0C-19 2-18 10-11 11C-4 12 1 12 5 13M-5-17C3-12 7-7 13-5C18-3 20 0 25 0M14 11C17 7 19 2 25 0"/><g transform="translate(-11,-15) rotate(-38)"><rect x="-8.5" y="-3.5" width="17" height="7"/><circle cx="-4.2" r="1.3" fill="#fff"/><circle cx="4.2" r="1.3" fill="#fff"/></g><g transform="translate(9.5,15.5) rotate(-38)"><rect x="-8.5" y="-3.5" width="17" height="7"/><circle cx="-4.2" r="1.3" fill="#fff"/><circle cx="4.2" r="1.3" fill="#fff"/></g><rect x="1" y="-1" width="6" height="6"/><circle cx="4" cy="2" r="1.1" fill="#fff"/><text class="n" x="-2" y="-3">1</text><text class="n" x="5" y="10">2</text><text class="lb" x="0" y="-29" text-anchor="middle">1.2.6</text></g>
<g transform="translate(622,581)"><circle r="25" fill="#fff" stroke="#000" stroke-width=".9"/><path class="gt" d="M-25 0C-20-1-19-7-15-10M-25 0C-19 2-18 10-11 11C-4 12 1 12 5 13M-5-17C3-12 7-7 13-5C18-3 20 0 25 0M14 11C17 7 19 2 25 0"/><g transform="translate(-11,-15) rotate(-38)"><rect x="-8.5" y="-3.5" width="17" height="7"/><circle cx="-4.2" r="1.3" fill="#fff"/><circle cx="4.2" r="1.3" fill="#fff"/></g><g transform="translate(9.5,15.5) rotate(-38)"><rect x="-8.5" y="-3.5" width="17" height="7"/><circle cx="-4.2" r="1.3" fill="#fff"/><circle cx="4.2" r="1.3" fill="#fff"/></g><rect x="1" y="-1" width="6" height="6"/><circle cx="4" cy="2" r="1.1" fill="#fff"/><text class="n" x="-2" y="-3">1</text><text class="n" x="5" y="10">2</text><text class="lb" x="0" y="-29" text-anchor="middle">1.2.8</text></g>

<!-- bottom modules -->
<text class="lb" x="368" y="497">1.2.2</text>
<g transform="translate(368,499)"><rect x=".75" y=".75" width="29.5" height="42.5" fill="#fff" stroke="#000" stroke-width="1.5"/><rect width="31" height="5"/><text class="mh" x="2" y="4">МИП-24-2А</text><text class="mv" transform="translate(8.5,18) rotate(-90)">+XT1</text><text class="mv" x="12.5" y="15">+</text><text class="mv" x="18.5" y="15">–</text><text class="mv" x="24.5" y="15">+</text><text class="mv" transform="translate(8.5,31) rotate(-90)">ДПЛС</text><text class="mv" transform="translate(14.5,31) rotate(-90)">ДПЛС</text><text class="mv" transform="translate(20.5,31) rotate(-90)">ДПЛС</text><text class="mv" transform="translate(26.5,31) rotate(-90)">ДПЛС</text><rect x="1" y="32" width="29" height="12"/><g fill="#fff"><circle cx="5" cy="37" r=".7"/><circle cx="9" cy="40" r=".7"/><circle cx="13" cy="37" r=".7"/><circle cx="17" cy="40" r=".7"/><circle cx="21" cy="37" r=".7"/><circle cx="25" cy="40" r=".7"/></g></g>
<text class="lb" x="497" y="497">1.2.5</text>
<g transform="translate(497,499)"><rect x=".75" y=".75" width="29.5" height="42.5" fill="#fff" stroke="#000" stroke-width="1.5"/><rect width="31" height="5"/><text class="mh" x="2" y="4">МИП-24-2А</text><text class="mv" transform="translate(8.5,18) rotate(-90)">+XT1</text><text class="mv" x="12.5" y="15">+</text><text class="mv" x="18.5" y="15">–</text><text class="mv" x="24.5" y="15">+</text><text class="mv" transform="translate(8.5,31) rotate(-90)">ДПЛС</text><text class="mv" transform="translate(14.5,31) rotate(-90)">ДПЛС</text><text class="mv" transform="translate(20.5,31) rotate(-90)">ДПЛС</text><text class="mv" transform="translate(26.5,31) rotate(-90)">ДПЛС</text><rect x="1" y="32" width="29" height="12"/><g fill="#fff"><circle cx="5" cy="37" r=".7"/><circle cx="9" cy="40" r=".7"/><circle cx="13" cy="37" r=".7"/><circle cx="17" cy="40" r=".7"/><circle cx="21" cy="37" r=".7"/><circle cx="25" cy="40" r=".7"/></g></g>
<g transform="translate(652,503)"><rect x=".75" y=".75" width="29.5" height="42.5" fill="#fff" stroke="#000" stroke-width="1.5"/><rect width="31" height="5"/><text class="mh" x="2" y="4">УК-ВК/06</text><text class="mv" transform="translate(8.5,18) rotate(-90)">+XT1</text><text class="mv" x="12.5" y="15">+</text><text class="mv" x="18.5" y="15">–</text><text class="mv" x="24.5" y="15">+</text><text class="mv" transform="translate(8.5,31) rotate(-90)">ДПЛС</text><text class="mv" transform="translate(14.5,31) rotate(-90)">ДПЛС</text><text class="mv" transform="translate(20.5,31) rotate(-90)">ДПЛС</text><text class="mv" transform="translate(26.5,31) rotate(-90)">ДПЛС</text><rect x="1" y="32" width="29" height="12"/><g fill="#fff"><circle cx="5" cy="37" r=".7"/><circle cx="9" cy="40" r=".7"/><circle cx="13" cy="37" r=".7"/><circle cx="17" cy="40" r=".7"/><circle cx="21" cy="37" r=".7"/><circle cx="25" cy="40" r=".7"/></g></g>
<g transform="translate(684,503)"><rect x=".75" y=".75" width="29.5" height="42.5" fill="#fff" stroke="#000" stroke-width="1.5"/><rect width="31" height="5"/><text class="mh" x="2" y="4">УК-ВК/06</text><text class="mv" transform="translate(8.5,18) rotate(-90)">+XT1</text><text class="mv" x="12.5" y="15">+</text><text class="mv" x="18.5" y="15">–</text><text class="mv" x="24.5" y="15">+</text><text class="mv" transform="translate(8.5,31) rotate(-90)">ДПЛС</text><text class="mv" transform="translate(14.5,31) rotate(-90)">ДПЛС</text><text class="mv" transform="translate(20.5,31) rotate(-90)">ДПЛС</text><text class="mv" transform="translate(26.5,31) rotate(-90)">ДПЛС</text><rect x="1" y="32" width="29" height="12"/><g fill="#fff"><circle cx="5" cy="37" r=".7"/><circle cx="9" cy="40" r=".7"/><circle cx="13" cy="37" r=".7"/><circle cx="17" cy="40" r=".7"/><circle cx="21" cy="37" r=".7"/><circle cx="25" cy="40" r=".7"/></g></g>
<g transform="translate(716,503)"><rect x=".75" y=".75" width="29.5" height="42.5" fill="#fff" stroke="#000" stroke-width="1.5"/><rect width="31" height="5"/><text class="mh" x="2" y="4">МИП-24-2А</text><text class="mv" transform="translate(8.5,18) rotate(-90)">+XT1</text><text class="mv" x="12.5" y="15">+</text><text class="mv" x="18.5" y="15">–</text><text class="mv" x="24.5" y="15">+</text><text class="mv" transform="translate(8.5,31) rotate(-90)">ДПЛС</text><text class="mv" transform="translate(14.5,31) rotate(-90)">ДПЛС</text><text class="mv" transform="translate(20.5,31) rotate(-90)">ДПЛС</text><text class="mv" transform="translate(26.5,31) rotate(-90)">ДПЛС</text><rect x="1" y="32" width="29" height="12"/><g fill="#fff"><circle cx="5" cy="37" r=".7"/><circle cx="9" cy="40" r=".7"/><circle cx="13" cy="37" r=".7"/><circle cx="17" cy="40" r=".7"/><circle cx="21" cy="37" r=".7"/><circle cx="25" cy="40" r=".7"/></g></g>

<g transform="translate(750,484)">
<rect x="1" y="1" width="128" height="44" fill="#fff" stroke="#000" stroke-width="2"/>
<text class="st" x="6" y="9">С2000-СП4/220</text>
<rect x="1" y="41" width="27" height="11"/><rect x="33" y="41" width="40" height="11"/><rect x="77" y="41" width="22" height="11"/><rect x="104" y="41" width="25" height="11"/>
<g fill="#fff"><circle cx="4" cy="45" r=".6"/><circle cx="9" cy="48" r=".6"/><circle cx="14" cy="45" r=".6"/><circle cx="19" cy="48" r=".6"/><circle cx="24" cy="45" r=".6"/><circle cx="37" cy="45" r=".6"/><circle cx="42" cy="48" r=".6"/><circle cx="48" cy="45" r=".6"/><circle cx="54" cy="48" r=".6"/><circle cx="60" cy="45" r=".6"/><circle cx="66" cy="48" r=".6"/><circle cx="71" cy="45" r=".6"/><circle cx="81" cy="45" r=".6"/><circle cx="87" cy="48" r=".6"/><circle cx="93" cy="45" r=".6"/><circle cx="108" cy="45" r=".6"/><circle cx="113" cy="48" r=".6"/><circle cx="119" cy="45" r=".6"/><circle cx="125" cy="48" r=".6"/></g>
<text class="sv" transform="translate(6,39) rotate(-90)">ДПЛС+ XT2</text><text class="sv" transform="translate(12,39) rotate(-90)">ДПЛС-</text><text class="sv" transform="translate(18,39) rotate(-90)">ДПЛС+</text><text class="sv" transform="translate(24,39) rotate(-90)">ДПЛС-</text>
<text class="sv" transform="translate(40,39) rotate(-90)">ТЕСТ+ XT3</text><text class="sv" transform="translate(45,39) rotate(-90)">ТЕСТ-</text><text class="sv" transform="translate(51,39) rotate(-90)">КЗ1+</text><text class="sv" transform="translate(56,39) rotate(-90)">КЗ1-</text><text class="sv" transform="translate(64,39) rotate(-90)">КЗ2+</text><text class="sv" transform="translate(69,39) rotate(-90)">КЗ2-</text>
<text class="sv" transform="translate(83,39) rotate(-90)">Напряжение XT4</text><text class="sv" transform="translate(90,39) rotate(-90)">N</text><text class="sv" transform="translate(95,39) rotate(-90)">Выходное</text>
<text class="sv" transform="translate(109,22) rotate(-90)">XT1</text><text class="sv" transform="translate(109,39) rotate(-90)">L</text><text class="sv" transform="translate(114,39) rotate(-90)">N</text><text class="sv" transform="translate(119,39) rotate(-90)">N</text><text class="sv" transform="translate(125,39) rotate(-90)">L</text>
<path class="b" d="M39 52V57H46V61M44 52V57M50 52V57H57V61M55 52V57M63 52V57H70V61M68 52V57M80 52V57H94V61M87 52V57M92 52V57M107 52V57H114V61M112 52V57M118 52V57H126V61M123 52V57"/>
<g fill="#1f2fd0"><path d="M44.5 60.5h3l-1.5 3z"/><path d="M55.5 60.5h3l-1.5 3z"/><path d="M68.5 60.5h3l-1.5 3z"/><path d="M92.5 60.5h3l-1.5 3z"/><path d="M112.5 60.5h3l-1.5 3z"/><path d="M124.5 60.5h3l-1.5 3z"/></g>
<text class="bk" x="34" y="68">"Тест"</text><text class="bk" x="52" y="68">КЗ</text><text class="bk" x="66" y="68">КЗ</text><text class="bk" x="92" y="68">Н</text><text class="bk" x="108" y="68">ИП1</text><text class="bk" x="122" y="68">ИП2</text>
</g>
<text class="cap" x="858" y="612">Подключение устройств ДПЛС</text>
<text class="cap" x="858" y="618">на отм. 0.000 (1 Этаж)</text>
</svg>
</body></html>
